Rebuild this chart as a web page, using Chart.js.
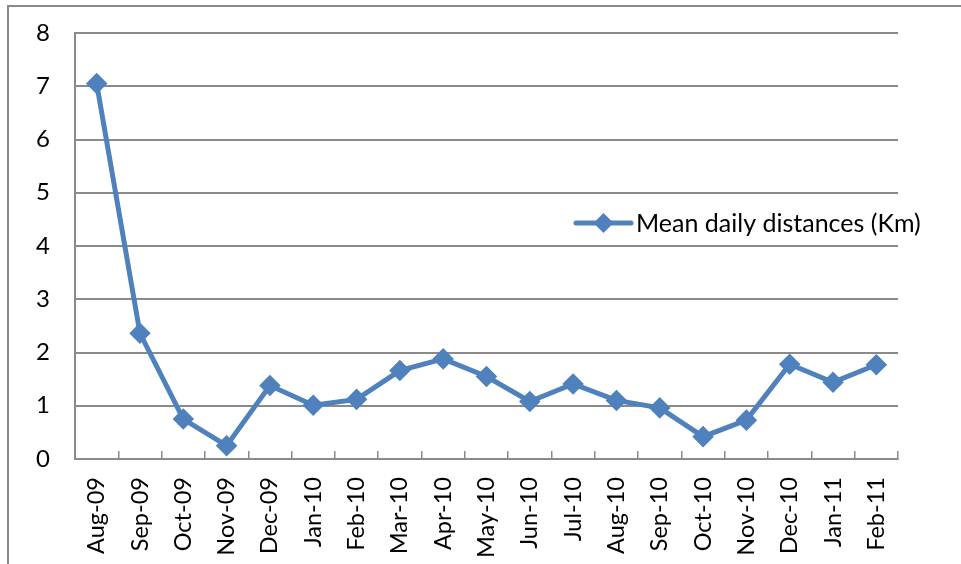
<!DOCTYPE html>
<html>
<head>
<meta charset="utf-8">
<script src="https://cdn.jsdelivr.net/npm/chart.js@4/dist/chart.umd.min.js"></script>
<style>
  html, body { margin: 0; padding: 0; background: #fff; }
  #wrap { position: relative; width: 961px; height: 564px; overflow: hidden; }
  #frame { position: absolute; left: 7px; top: 5px; width: 980px; height: 600px;
           border-left: 2px solid #8a8a8a; border-top: 2px solid #8a8a8a; }
  canvas { position: absolute; left: 0; top: 0; }
</style>
</head>
<body>
<div id="wrap">
  <div id="frame"></div>
  <canvas id="chart" width="961" height="564"></canvas>
</div>
<script>
// months shown on the x axis
const months = ['Aug-09', 'Sep-09', 'Oct-09', 'Nov-09', 'Dec-09', 'Jan-10', 'Feb-10', 'Mar-10',
  'Apr-10', 'May-10', 'Jun-10', 'Jul-10', 'Aug-10', 'Sep-10', 'Oct-10', 'Nov-10', 'Dec-10',
  'Jan-11', 'Feb-11'];

// mean daily distances
const meanDistances = [7.05, 2.36, 0.75, 0.25, 1.38, 1.01, 1.12, 1.66, 1.88, 1.55, 1.08, 1.41,
  1.10, 0.96, 0.42, 0.73, 1.78, 1.44, 1.77];

const seriesLabel = 'Mean daily distances (Km)';
const yMin = 0;
const yMax = 8;

const BLUE = '#4f81bd';
const GRID = '#8a8a8a';
const FONT = 'Lato, "Open Sans", sans-serif';

// legend sits inside the plot on the right, so draw it by hand
const insideLegend = {
  id: 'insideLegend',
  afterDraw(chart) {
    const ctx = chart.ctx;
    const ds = chart.data.datasets[0];
    const x0 = 576, x1 = 631, y = 223;
    ctx.save();
    ctx.strokeStyle = ds.borderColor;
    ctx.lineWidth = ds.borderWidth;
    ctx.lineCap = 'round';
    ctx.beginPath();
    ctx.moveTo(x0, y);
    ctx.lineTo(x1, y);
    ctx.stroke();
    const cx = (x0 + x1) / 2, r = ds.pointRadius + 1;
    ctx.fillStyle = ds.pointBackgroundColor;
    ctx.beginPath();
    ctx.moveTo(cx - r, y);
    ctx.lineTo(cx, y - r);
    ctx.lineTo(cx + r, y);
    ctx.lineTo(cx, y + r);
    ctx.closePath();
    ctx.fill();
    ctx.fillStyle = '#000';
    ctx.font = '25px ' + FONT;
    ctx.textBaseline = 'middle';
    ctx.fillText(ds.label, 636, y + 1);
    ctx.restore();
  }
};

new Chart(document.getElementById('chart'), {
  type: 'line',
  data: {
    labels: months,
    datasets: [{
      label: seriesLabel,
      data: meanDistances,
      borderColor: BLUE,
      backgroundColor: BLUE,
      borderWidth: 5,
      pointStyle: 'rectRot',
      pointRadius: 9,
      pointBackgroundColor: BLUE,
      pointBorderColor: BLUE,
      pointBorderWidth: 2.5,
      tension: 0,
      fill: false
    }]
  },
  options: {
    responsive: false,
    animation: false,
    devicePixelRatio: 1,
    layout: { padding: { top: 33, right: 63, left: 0, bottom: 0 } },
    plugins: {
      legend: { display: false },
      tooltip: { enabled: false }
    },
    scales: {
      x: {
        offset: true,
        grid: {
          display: true,
          offset: true,
          drawOnChartArea: false,
          drawTicks: true,
          tickLength: -8,
          color: GRID,
          lineWidth: 1.5
        },
        border: { display: true, color: GRID, width: 2 },
        ticks: {
          minRotation: 90,
          maxRotation: 90,
          autoSkip: false,
          padding: 26,
          color: '#000',
          font: { family: FONT, size: 23.5 }
        },
        afterFit(scale) { scale.height = 105; }
      },
      y: {
        min: yMin,
        max: yMax,
        ticks: {
          stepSize: 1,
          padding: 25,
          color: '#000',
          font: { family: FONT, size: 24 }
        },
        grid: { color: GRID, lineWidth: 2, drawTicks: false },
        border: { display: true, color: GRID, width: 2 },
        afterFit(scale) {
          scale.width = 75;
          scale.paddingTop = 0;
          scale.paddingBottom = 0;
        }
      }
    }
  },
  plugins: [insideLegend]
});
</script>
</body>
</html>
